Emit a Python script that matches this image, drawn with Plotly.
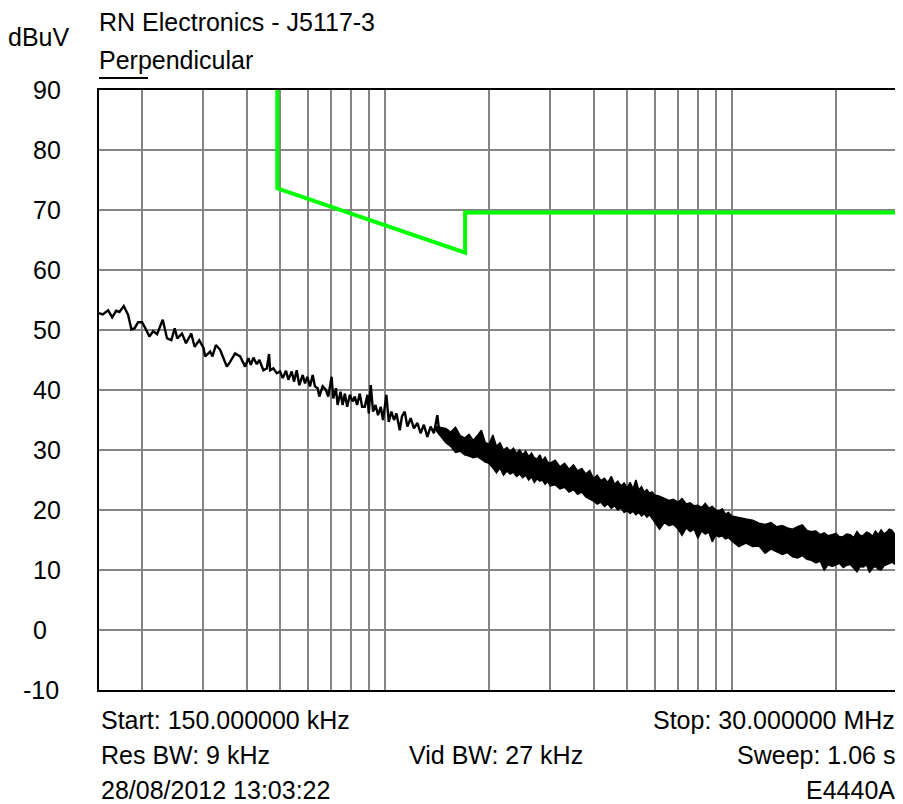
import plotly.graph_objects as go

# ---------------- data ----------------
# measured trace, low-frequency part (MHz, dBuV)
trace_freq_mhz = [
    0.150, 0.1538, 0.1594, 0.1637, 0.1681, 0.1718, 0.1768, 0.1820, 0.1860, 0.1901,
    0.1945, 0.1997, 0.2041, 0.2096, 0.2148, 0.2206, 0.2290, 0.2357, 0.2425, 0.2479,
    0.2523, 0.2603, 0.2673, 0.2768, 0.2830, 0.2919, 0.3002, 0.3036, 0.3138, 0.3186,
    0.3259, 0.3353, 0.3428, 0.3506, 0.3582, 0.3703, 0.3829, 0.3958, 0.4045, 0.4110,
    0.4182, 0.4277, 0.4351, 0.4467, 0.4570, 0.4640, 0.4671, 0.4773, 0.4882, 0.4990,
    0.5080, 0.5193, 0.5272, 0.5392, 0.5475, 0.5574, 0.5671, 0.5800, 0.5889, 0.5980,
    0.6088, 0.6198, 0.6293, 0.6407, 0.6475, 0.6622, 0.6769, 0.6873, 0.7028, 0.7103,
    0.7231, 0.7313, 0.7460, 0.7559, 0.7675, 0.7793, 0.7934, 0.8074, 0.8198, 0.8324,
    0.8474, 0.8605, 0.8759, 0.8917, 0.8994, 0.9114, 0.9254, 0.9402, 0.9565, 0.9737,
    0.9887, 1.011, 1.027, 1.045, 1.064, 1.081, 1.105, 1.121, 1.142, 1.162,
    1.188, 1.214, 1.242, 1.269, 1.297, 1.327, 1.356, 1.386, 1.418, 1.439,
]
trace_level_dbuv = [
    52.8, 52.6, 53.3, 52.1, 53.2, 53.0, 54.0, 52.5, 50.1, 50.3,
    51.3, 51.3, 50.3, 48.9, 49.8, 49.3, 51.7, 48.6, 48.3, 50.3,
    48.6, 49.4, 47.8, 49.4, 47.2, 48.3, 47.0, 45.6, 46.4, 45.6,
    47.5, 46.7, 45.3, 43.9, 44.7, 46.1, 45.6, 43.9, 45.3, 44.2,
    45.4, 44.3, 45.0, 43.3, 43.6, 46.0, 43.3, 43.6, 42.8, 43.1,
    42.0, 43.2, 41.7, 43.1, 41.4, 43.3, 40.8, 42.5, 41.1, 42.2,
    40.6, 42.5, 40.6, 40.3, 38.9, 40.6, 40.0, 38.9, 42.2, 38.6,
    40.3, 37.5, 39.7, 37.5, 39.4, 37.2, 39.2, 38.1, 38.9, 37.5,
    39.4, 37.2, 37.2, 39.2, 36.1, 40.8, 36.4, 37.5, 35.8, 37.2,
    35.0, 39.2, 34.7, 36.4, 35.0, 36.1, 33.3, 35.6, 36.4, 33.9,
    35.3, 33.6, 34.5, 32.8, 34.2, 32.2, 33.9, 32.8, 35.8, 32.6,
]

# dense high-frequency part: upper and lower edge of the noise band (MHz, dBuV)
band_freq_mhz = [
    1.40, 1.45, 1.50, 1.55, 1.60, 1.65, 1.70, 1.75, 1.80, 1.85,
    1.90, 1.95,
    2.0, 2.05, 2.1, 2.15, 2.2, 2.25, 2.3, 2.35, 2.4, 2.45,
    2.5, 2.55, 2.6, 2.65, 2.7, 2.75, 2.8, 2.85, 2.9, 2.95,
    3.0, 3.1, 3.2, 3.3, 3.4, 3.5, 3.6, 3.7, 3.8, 3.9,
    4.0, 4.1, 4.2, 4.3, 4.4, 4.5, 4.6, 4.7, 4.8, 4.9,
    5.0, 5.1, 5.2, 5.3, 5.4, 5.5, 5.6, 5.7, 5.8, 5.9,
    6.0, 6.2, 6.4, 6.6, 6.8, 7.0, 7.2, 7.4, 7.6, 7.8,
    8.0, 8.2, 8.4, 8.6, 8.8, 9.0, 9.2, 9.4, 9.6, 9.8,
    10.0, 10.5, 11.0, 11.5, 12.0, 12.5, 13.0, 13.5, 14.0, 14.5,
    15.0, 15.5, 16.0, 16.5, 17.0, 17.5, 18.0, 18.5, 19.0, 19.5,
    20.0, 20.5, 21.0, 21.5, 22.0, 22.5, 23.0, 23.5, 24.0, 24.5,
    25.0, 25.5, 26.0, 26.5, 27.0, 27.5, 28.0, 28.5, 29.0, 29.5,
    30.0,
]
band_top_dbuv = [
    33.9, 33.8, 33.6, 33.0, 33.8, 32.4, 32.0, 32.6, 31.6, 32.4,
    33.3, 31.2,
    31.0, 32.5, 30.6, 31.2, 30.0, 30.4, 29.8, 30.3, 29.4, 30.0,
    29.2, 29.8, 28.9, 29.5, 28.7, 28.5, 29.2, 28.2, 28.8, 28.0,
    27.8, 28.3, 27.2, 27.8, 26.8, 27.5, 26.5, 26.9, 26.0, 26.6,
    25.2, 25.8, 24.9, 25.3, 24.6, 25.6, 24.3, 24.8, 24.0, 24.5,
    23.7, 24.6, 23.5, 25.0, 23.3, 23.9, 23.0, 23.4, 22.8, 23.0,
    22.5, 22.3, 22.0, 21.6, 21.8, 21.3, 21.9, 21.0, 21.2, 20.7,
    20.8, 20.4, 21.1, 20.3, 20.6, 20.0, 19.8, 20.2, 19.3, 19.6,
    19.0, 18.8, 18.5, 18.3, 17.8, 17.6, 17.9, 17.2, 17.4, 17.0,
    16.8, 17.2, 17.5, 16.6, 16.4, 16.5, 15.9, 16.2, 15.7, 15.9,
    16.1, 15.5, 15.6, 16.0, 15.9, 15.4, 16.4, 15.7, 15.8, 16.3,
    16.1, 15.6, 16.5, 15.9, 16.7, 16.0, 16.3, 16.8, 16.6, 16.0,
    16.4,
]
band_bottom_dbuv = [
    33.4, 32.2, 31.2, 30.6, 29.6, 29.8, 29.2, 29.0, 28.7, 28.9,
    28.4, 28.0,
    27.8, 27.0, 26.2, 27.0, 25.8, 26.5, 26.0, 26.3, 25.6, 26.0,
    25.4, 25.8, 25.0, 25.5, 24.6, 25.2, 24.8, 25.0, 24.3, 24.8,
    24.0, 24.2, 23.5, 23.8, 23.0, 23.4, 22.6, 23.0, 22.2, 21.8,
    21.5, 21.0, 21.3, 20.6, 21.0, 20.3, 20.7, 20.0, 20.4, 19.6,
    19.9, 19.4, 19.8, 19.2, 19.6, 19.0, 19.4, 18.8, 19.2, 18.6,
    18.0, 16.8, 17.9, 17.4, 17.6, 16.9, 15.8, 17.0, 16.4, 16.8,
    15.3, 16.5, 16.0, 16.3, 14.7, 15.8, 15.5, 15.7, 15.2, 15.4,
    14.9, 13.9, 14.5, 13.9, 14.0, 12.8, 13.5, 13.0, 12.6, 12.9,
    12.2, 12.0, 12.4, 11.8, 11.6, 11.2, 11.5, 10.0, 10.9, 10.6,
    10.8, 11.1, 10.4, 10.8, 10.9, 10.2, 9.7, 10.6, 10.5, 10.9,
    9.6, 10.3, 10.6, 10.1, 10.0, 10.7, 10.9, 11.2, 11.3, 11.0,
    11.8,
]

# limit line (MHz, dBuV)
limit_freq_mhz = [0.49, 0.49, 1.705, 1.705, 30.0]
limit_level_dbuv = [90.0, 73.6, 62.9, 69.6, 69.6]

y_tick_values = [90, 80, 70, 60, 50, 40, 30, 20, 10, 0, -10]
y_tick_labels = ["90", "80", "70", "60", "50", "40", "30", "20", "10", "0", "-10"]

title_text = "RN Electronics - J5117-3"
unit_text = "dBuV"
trace_name = "Perpendicular"
footer_left = ["Start: 150.000000 kHz", "Res BW: 9 kHz", "28/08/2012 13:03:22"]
footer_mid = ["", "Vid BW: 27 kHz", ""]
footer_right = ["Stop: 30.000000 MHz", "Sweep: 1.06 s", "E4440A"]

# ---------------- figure ----------------
FONT = "Liberation Sans, Arial, Helvetica, sans-serif"
FS = 25

fig = go.Figure()

fig.add_trace(go.Scatter(
    x=limit_freq_mhz, y=limit_level_dbuv, mode="lines",
    line=dict(color="#00ff00", width=4), showlegend=False, hoverinfo="skip"))

fig.add_trace(go.Scatter(
    x=band_freq_mhz, y=band_bottom_dbuv, mode="lines",
    line=dict(color="black", width=1.5), showlegend=False, hoverinfo="skip"))
fig.add_trace(go.Scatter(
    x=band_freq_mhz, y=band_top_dbuv, mode="lines", fill="tonexty",
    fillcolor="black", line=dict(color="black", width=1.5),
    showlegend=False, hoverinfo="skip"))

fig.add_trace(go.Scatter(
    x=trace_freq_mhz, y=trace_level_dbuv, mode="lines",
    line=dict(color="black", width=2.4), showlegend=False, hoverinfo="skip"))

annotations = []
for v, t in zip(y_tick_values, y_tick_labels):
    neg = t.startswith("-")
    annotations.append(dict(x=-0.085, xref="paper", y=v, yref="y", text=t,
                            showarrow=False, xanchor="left", yanchor="middle",
                            xshift=-10 if neg else 0,
                            font=dict(family=FONT, size=FS, color="black")))

annotations.append(dict(x=0, xref="paper", y=1.113, yref="paper", text=title_text,
                        showarrow=False, xanchor="left", yanchor="middle", xshift=-2,
                        font=dict(family=FONT, size=FS, color="black")))
annotations.append(dict(x=-0.076, xref="paper", y=1.088, yref="paper", text=unit_text,
                        showarrow=False, xanchor="center", yanchor="middle",
                        font=dict(family=FONT, size=FS, color="black")))
annotations.append(dict(x=0, xref="paper", y=1.05, yref="paper", text=trace_name,
                        showarrow=False, xanchor="left", yanchor="middle", xshift=-2,
                        font=dict(family=FONT, size=FS, color="black")))

rows_y = [-0.05, -0.1083, -0.1667]
for i, yy in enumerate(rows_y):
    annotations.append(dict(x=0, xref="paper", y=yy, yref="paper", text=footer_left[i],
                            showarrow=False, xanchor="left", yanchor="middle",
                            font=dict(family=FONT, size=FS, color="black")))
    if footer_mid[i]:
        annotations.append(dict(x=0.498, xref="paper", y=yy, yref="paper", text=footer_mid[i],
                                showarrow=False, xanchor="center", yanchor="middle",
                                font=dict(family=FONT, size=FS, color="black")))
    annotations.append(dict(x=1, xref="paper", y=yy, yref="paper", text=footer_right[i],
                            showarrow=False, xanchor="right", yanchor="middle",
                            font=dict(family=FONT, size=FS, color="black")))

# page body has an 8px margin, so the figure is made 8px smaller on each side
fig.update_layout(
    width=895, height=796,
    margin=dict(l=91, r=4, t=82, b=114),
    paper_bgcolor="white", plot_bgcolor="white",
    showlegend=False,
    annotations=annotations,
    shapes=[dict(type="line", xref="paper", yref="paper", x0=0, x1=0.0615,
                 y0=1.02, y1=1.02, line=dict(color="black", width=2))],
    xaxis=dict(type="log", range=[-0.8239, 1.4771], dtick="D1",
               showgrid=True, gridcolor="#858585", gridwidth=2,
               showticklabels=False, ticks="", zeroline=False,
               showline=True, mirror=True, linecolor="black", linewidth=2),
    yaxis=dict(range=[-10, 90], dtick=10, tick0=0,
               showgrid=True, gridcolor="#858585", gridwidth=2,
               showticklabels=False, ticks="", zeroline=False,
               showline=True, mirror=True, linecolor="black", linewidth=2),
)

fig.write_html("out.html")
